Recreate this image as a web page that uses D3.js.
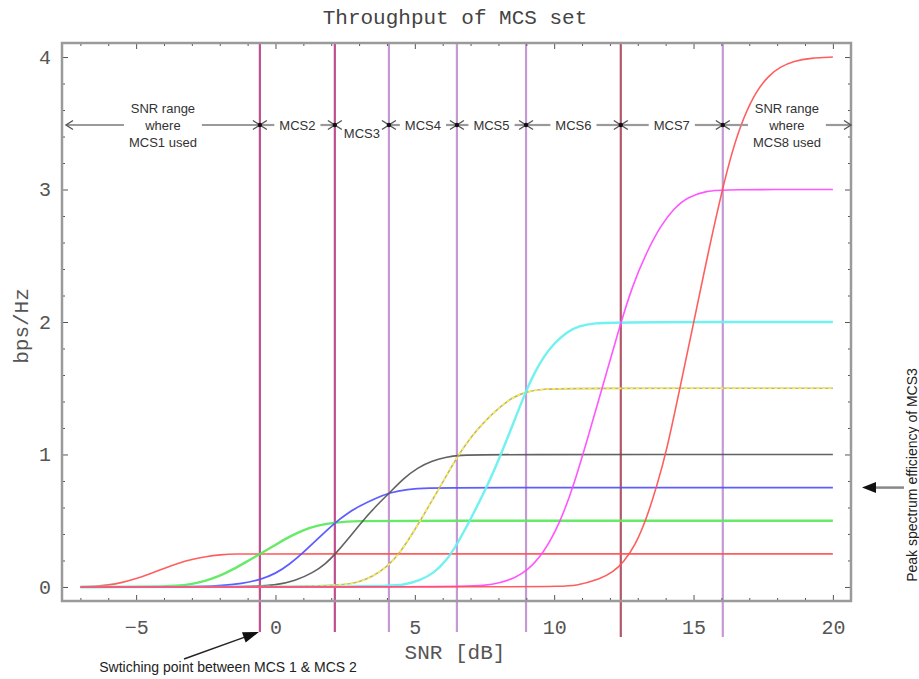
<!DOCTYPE html>
<html><head><meta charset="utf-8">
<script src="https://cdn.jsdelivr.net/npm/d3@7"></script>
<style>
html,body{margin:0;padding:0;background:#fff;}
svg{display:block;}
</style></head>
<body>
<svg id="chart" width="919" height="679"></svg>
<script>
// ---------- data ----------
const titleText = "Throughput of MCS set";
const xLabel = "SNR [dB]";
const yLabel = "bps/Hz";
const xMajorTicks = [-5, 0, 5, 10, 15, 20];
const yMajorTicks = [0, 1, 2, 3, 4];
const mcsNames = ["MCS1","MCS2","MCS3","MCS4","MCS5","MCS6","MCS7","MCS8"];
const peakRates = [0.25, 0.5, 0.75, 1, 1.5, 2, 3, 4];
const mcs1 = [[-7,0],[-6.5,0.004],[-6,0.014],[-5.5,0.033],[-5,0.062],[-4.5,0.1],[-4,0.14],[-3.5,0.178],[-3,0.208],[-2.5,0.23],[-2,0.243],[-1.4,0.25],[-0.5,0.25],[20,0.25]];
const mcs2 = [[-7,0],[-4.5,0],[-3.5,0.008],[-3,0.022],[-2.5,0.046],[-2,0.082],[-1.5,0.135],[-1,0.195],[-0.54,0.25],[0,0.318],[0.5,0.38],[1,0.43],[1.5,0.465],[2.15,0.488],[3,0.498],[4,0.5],[20,0.5]];
const mcs3 = [[-7,0],[-3,0],[-2,0.008],[-1.2,0.025],[-0.54,0.055],[0,0.1],[0.5,0.17],[1,0.26],[1.6,0.38],[2.15,0.488],[2.6,0.56],[3.05,0.615],[3.6,0.67],[4.1,0.712],[4.7,0.737],[5.5,0.748],[6.5,0.75],[20,0.75]];
const mcs4 = [[-7,0],[-1,0],[0,0.012],[0.7,0.045],[1.37,0.11],[1.8,0.175],[2.15,0.249],[2.6,0.36],[3.05,0.48],[3.6,0.61],[4.1,0.712],[4.6,0.82],[5.1,0.9],[5.6,0.95],[6.1,0.98],[6.6,0.995],[7.5,1.0],[20,1]];
const mcs5 = [[-7,0],[2.2,0],[3.0,0.035],[3.5,0.08],[4.0,0.15],[4.48,0.26],[5.0,0.43],[5.5,0.61],[6.0,0.79],[6.51,0.98],[7.0,1.13],[7.5,1.25],[8.06,1.36],[8.5,1.43],[9.0,1.475],[9.62,1.494],[10.5,1.5],[20,1.5]];
const mcs6 = [[-7,0],[4,0],[4.6,0.015],[5.2,0.05],[5.68,0.105],[6.1,0.19],[6.51,0.317],[7.11,0.556],[7.71,0.808],[8.3,1.109],[8.96,1.467],[9.3,1.62],[9.62,1.738],[10.0,1.84],[10.46,1.927],[10.9,1.97],[11.41,1.992],[12.4,2.0],[20,2]];
const mcs7 = [[-7,0],[6.6,0],[7.5,0.01],[8.06,0.03],[8.6,0.07],[9.02,0.12],[9.62,0.254],[10.2,0.48],[10.69,0.76],[11.17,1.1],[11.72,1.5],[12.37,1.98],[12.8,2.27],[13.3,2.52],[13.8,2.72],[14.3,2.86],[14.8,2.945],[15.47,2.99],[16.1,3.0],[20,3]];
const mcs8 = [[-7,0],[10,0],[10.8,0.008],[11.65,0.06],[12.1,0.11],[12.5,0.19],[12.9,0.31],[13.32,0.52],[13.68,0.76],[14.04,1.03],[14.52,1.51],[15.0,1.99],[15.5,2.5],[16.03,3.0],[16.4,3.3],[16.8,3.55],[17.27,3.75],[17.7,3.86],[18.1,3.925],[18.6,3.97],[19.2,3.992],[20,4.0]];
const switchPoints = [-0.56, 2.13, 4.07, 6.51, 8.99, 12.39, 16.05];
const rangeLabels = [["SNR range","where","MCS1 used"],["MCS2"],["MCS3"],["MCS4"],["MCS5"],["MCS6"],["MCS7"],["SNR range","where","MCS8 used"]];
const switchNote = "Swtiching point between MCS 1 & MCS 2";
const peakNote = "Peak spectrum efficiency of MCS3";

// ---------- styles ----------
const curveStyles = [
  {c:"#ff5050", w:1.6},
  {c:"#5ae85a", w:2.4},
  {c:"#5050ff", w:1.8},
  {c:"#555555", w:1.6},
  {c:"#b8b070", w:1.6, dash:"#fff040"},
  {c:"#66f0f0", w:2.4},
  {c:"#ff48ff", w:1.6},
  {c:"#ff5050", w:1.6}
];
const switchColors = ["#c0508e","#c0508e","#c49ad4","#c49ad4","#c49ad4","#b05868","#c49ad4"];
const switchBottoms = [632,632,632,632,632,637,637];

const svg = d3.select("#chart");
const L = 62, R = 851, T = 43, B = 601;
const x = d3.scaleLinear().domain([-7.66, 20.65]).range([L, R]);
const y = d3.scaleLinear().domain([-0.106, 4.106]).range([B, T]);
const mono = "'Liberation Mono','DejaVu Sans Mono',monospace";
const sans = "'Liberation Sans',Arial,sans-serif";

// title
svg.append("text").attr("x", 455).attr("y", 24).attr("text-anchor","middle")
  .attr("font-family", mono).attr("font-size", 21).attr("fill","#444").text(titleText);

// switching lines
const sw = svg.append("g");
switchPoints.forEach((s,i)=>{
  sw.append("line").attr("x1", x(s)).attr("x2", x(s)).attr("y1", T).attr("y2", switchBottoms[i])
    .attr("stroke", switchColors[i]).attr("stroke-width", 2.2);
});

// curves
const line = d3.line().x(d=>x(d[0])).y(d=>y(d[1])).curve(d3.curveBasis);
const allCurves = [mcs1, mcs2, mcs3, mcs4, mcs5, mcs6, mcs7, mcs8];
const cg = svg.append("g");
allCurves.forEach((data,i)=>{
  const st = curveStyles[i];
  cg.append("path").datum(data).attr("d", line).attr("fill","none")
    .attr("stroke", st.c).attr("stroke-width", st.w).attr("stroke-opacity",0.92);
  if (st.dash) {
    cg.append("path").datum(data).attr("d", line).attr("fill","none")
      .attr("stroke", st.dash).attr("stroke-width", st.w).attr("stroke-dasharray","3,3");
  }
});

// axes
function styleAxis(g){
  g.select(".domain").remove();
  g.selectAll(".tick line").attr("stroke","#555").attr("stroke-width",1);
  g.selectAll(".tick text").attr("font-family", mono).attr("font-size", 20).attr("fill","#555");
}
const minorX = d3.range(-7, 21).filter(v=>v%5!==0);
const minorY = d3.range(1, 20).map(v=>v/5).filter(v=>Math.abs(v-Math.round(v))>1e-6);
svg.append("g").attr("transform",`translate(0,${B})`)
  .call(d3.axisBottom(x).tickValues(minorX).tickSizeInner(-3).tickSizeOuter(0).tickFormat("")).call(styleAxis);
svg.append("g").attr("transform",`translate(0,${B})`)
  .call(d3.axisBottom(x).tickValues(xMajorTicks).tickSizeInner(-6).tickSizeOuter(0).tickPadding(19)
  .tickFormat(d=> d<0 ? "\u2212"+Math.abs(d) : d)).call(styleAxis);
svg.append("g").attr("transform",`translate(0,${T})`)
  .call(d3.axisTop(x).tickValues(minorX).tickSizeInner(-3).tickSizeOuter(0).tickFormat("")).call(styleAxis);
svg.append("g").attr("transform",`translate(0,${T})`)
  .call(d3.axisTop(x).tickValues(xMajorTicks).tickSizeInner(-6).tickSizeOuter(0).tickFormat("")).call(styleAxis);
svg.append("g").attr("transform",`translate(${L},0)`)
  .call(d3.axisLeft(y).tickValues(minorY).tickSizeInner(-3).tickSizeOuter(0).tickFormat("")).call(styleAxis);
svg.append("g").attr("transform",`translate(${L},0)`)
  .call(d3.axisLeft(y).tickValues(yMajorTicks).tickSizeInner(-6).tickSizeOuter(0).tickPadding(11).tickFormat(d3.format("d"))).call(styleAxis);
svg.append("g").attr("transform",`translate(${R},0)`)
  .call(d3.axisRight(y).tickValues(minorY).tickSizeInner(-3).tickSizeOuter(0).tickFormat("")).call(styleAxis);
svg.append("g").attr("transform",`translate(${R},0)`)
  .call(d3.axisRight(y).tickValues(yMajorTicks).tickSizeInner(-6).tickSizeOuter(0).tickFormat("")).call(styleAxis);

// frame
svg.append("rect").attr("x", L).attr("y", T).attr("width", R-L).attr("height", B-T)
  .attr("fill","none").attr("stroke","#9a9a9a").attr("stroke-width",2.5);

// axis labels
svg.append("text").attr("x", 455).attr("y", 659).attr("text-anchor","middle")
  .attr("font-family", mono).attr("font-size", 21).attr("fill","#555").text(xLabel);
svg.append("text").attr("transform","translate(28,326) rotate(-90)").attr("text-anchor","middle")
  .attr("font-family", mono).attr("font-size", 21).attr("fill","#555").text(yLabel);

// range annotation row
const rowY = 125;
const ann = svg.append("g");
const pts = [66, ...switchPoints.map(s=>x(s)), R];
function chevron(tipX, dir){ // dir=+1 arms go right (head points left)
  ann.append("path").attr("d",`M${tipX+dir*7},${rowY-4.5}L${tipX},${rowY}L${tipX+dir*7},${rowY+4.5}`)
    .attr("fill","none").attr("stroke","#555").attr("stroke-width",1.4);
}
rangeLabels.forEach((lines,i)=>{
  const a = pts[i], b = pts[i+1], mid = (a+b)/2;
  const t = ann.append("text").attr("text-anchor","middle").attr("font-family", sans)
    .attr("font-size", 13).attr("fill","#333");
  const n = lines.length;
  lines.forEach((s,k)=>{
    t.append("tspan").attr("x", mid).attr("y", rowY + (k-(n-1)/2)*17).attr("dy","0.35em").text(s);
  });
  const w = t.node().getBBox().width;
  if (b - a < w + 24) {
    t.attr("transform","translate(0,8)");
  } else {
    ann.append("line").attr("x1", a+1).attr("x2", mid-w/2-5).attr("y1", rowY).attr("y2", rowY)
      .attr("stroke","#9a9a9a").attr("stroke-width",2.2);
    ann.append("line").attr("x1", mid+w/2+5).attr("x2", b-1).attr("y1", rowY).attr("y2", rowY)
      .attr("stroke","#9a9a9a").attr("stroke-width",2.2);
  }
  chevron(a, +1);
  chevron(b, -1);
});
switchPoints.forEach(s=>{
  ann.append("circle").attr("cx", x(s)).attr("cy", rowY).attr("r", 2.2).attr("fill","#111");
});

// filled arrow helper
function arrow(x0,y0,x1,y1,shaftColor,shaftW,headLen,headHalf){
  const dx=x1-x0, dy=y1-y0, len=Math.hypot(dx,dy), ux=dx/len, uy=dy/len;
  const bx=x1-ux*headLen, by=y1-uy*headLen;
  ann.append("line").attr("x1",x0).attr("y1",y0).attr("x2",bx+ux).attr("y2",by+uy)
    .attr("stroke",shaftColor).attr("stroke-width",shaftW);
  ann.append("path").attr("d",`M${x1},${y1}L${bx-uy*headHalf},${by+ux*headHalf}L${bx+uy*headHalf},${by-ux*headHalf}Z`)
    .attr("fill","#111");
}
// bottom note
arrow(184, 659, x(switchPoints[0])-1, 632, "#222", 1.4, 16, 5.5);
svg.append("text").attr("x", 228).attr("y", 672).attr("text-anchor","middle").attr("font-family", sans)
  .attr("font-size", 14).attr("fill","#222").text(switchNote);
// right note
arrow(904, y(peakRates[2]), 862, y(peakRates[2]), "#888", 2.5, 14, 5.5);
svg.append("text").attr("transform","translate(912,475) rotate(-90)").attr("text-anchor","middle")
  .attr("dy","0.35em").attr("font-family", sans).attr("font-size", 14).attr("fill","#222").text(peakNote);
</script>
</body></html>
